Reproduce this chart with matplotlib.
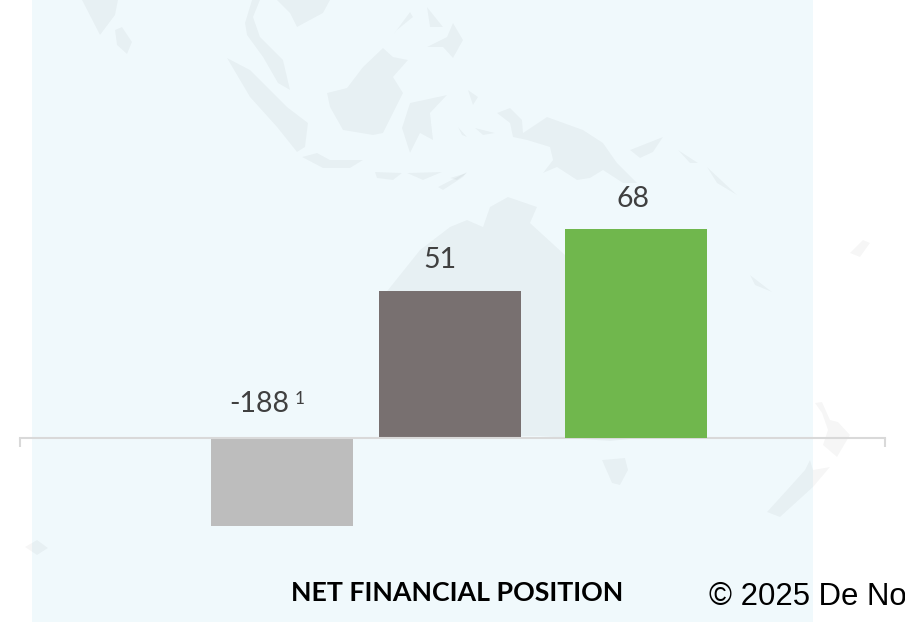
import matplotlib
matplotlib.use("Agg")
import matplotlib.pyplot as plt
from matplotlib.patches import Polygon, Rectangle

# ---------------------- data ----------------------
value_labels = ["-188", "51", "68"]
# drawn bar heights (the bars are not to scale with the labels)
bar_heights = [-88, 147, 209]
bar_colors = ["#bdbdbd", "#787070", "#70b74d"]
chart_title = "NET FINANCIAL POSITION"
footnote_mark = "1"
copyright_text = "© 2025 De No"

# ---------------------- layout (pixels) ----------------------
W, H = 905, 622
AX_LEFT, AX_RIGHT = 20, 885
BASELINE = 438
BAR_CENTERS = [262, 430, 616]  # relative to AX_LEFT
BAR_WIDTH = 142
LABEL_DX = [-23, -10, -3]
LABEL_DY = [26, 23, 22]

# background map, traced by hand in pixel coordinates
map_shapes = [
    [(82, 0), (118, 0), (115, 15), (100, 35)],
    [(115, 30), (122, 27), (132, 42), (127, 54), (117, 45)],
    [(252, 0), (260, 0), (253, 17), (260, 37), (283, 60), (287, 77), (290, 90), (278, 83), (263, 57), (247, 35), (245, 23)],
    [(277, 0), (330, 0), (323, 13), (297, 27), (290, 13)],
    [(227, 58), (250, 70), (287, 107), (308, 123), (305, 147), (297, 152), (277, 127), (250, 97)],
    [(302, 157), (317, 153), (330, 160), (363, 160), (350, 168), (323, 168)],
    [(327, 93), (347, 88), (363, 67), (383, 48), (393, 57), (408, 60), (393, 77), (403, 93), (383, 133), (373, 135), (343, 130), (330, 107)],
    [(410, 103), (447, 95), (430, 113), (433, 140), (420, 133), (410, 153), (402, 128)],
    [(427, 7), (443, 27), (430, 27)],
    [(453, 23), (463, 40), (453, 58), (443, 47), (427, 47), (447, 37)],
    [(410, 12), (393, 35), (397, 30), (413, 17)],
    [(375, 172), (402, 173), (393, 180), (377, 178)],
    [(407, 173), (442, 172), (423, 180)],
    [(438, 187), (467, 172), (463, 177), (443, 190)],
    [(497, 113), (510, 108), (522, 120), (523, 133), (547, 117), (583, 130), (603, 143), (617, 163), (637, 183), (623, 183),
     (603, 170), (590, 178), (577, 180), (557, 167), (543, 173), (553, 160), (550, 147), (527, 140), (513, 137), (510, 123)],
    [(630, 150), (663, 137), (653, 152), (640, 158)],
    [(678, 150), (698, 163), (690, 163)],
    [(707, 167), (737, 195), (717, 183)],
    [(468, 90), (478, 97), (473, 105)],
    [(475, 128), (495, 133), (483, 135)],
    [(458, 127), (467, 137), (462, 135)],
    [(450, 178), (467, 173), (457, 180)],
    # Australia
    [(450, 227), (467, 220), (483, 227), (490, 207), (508, 197), (537, 207), (530, 223), (565, 255), (700, 380), (640, 438),
     (610, 441), (540, 436), (400, 436), (380, 300), (420, 250)],
    [(602, 460), (625, 458), (628, 470), (620, 485), (612, 483)],
    [(810, 460), (813, 470), (830, 467), (813, 487), (780, 517), (767, 512), (787, 490), (805, 470)],
    [(815, 403), (822, 402), (830, 420), (838, 422), (850, 435), (837, 457), (823, 445), (828, 430), (822, 413)],
    [(750, 275), (772, 292), (755, 285)],
    [(850, 253), (860, 257), (870, 243), (863, 240), (853, 250)],
    [(25, 547), (37, 540), (48, 548), (37, 555)],
]

fig = plt.figure(figsize=(W / 100, H / 100), dpi=100, facecolor="white")

# ---------------------- background panel + map ----------------------
bg = fig.add_axes([0, 0, 1, 1])
bg.set_xlim(0, W)
bg.set_ylim(H, 0)
bg.axis("off")
bg.add_patch(Rectangle((32, 0), 781, H, facecolor="#f0f9fc", edgecolor="none"))
for shape in map_shapes:
    bg.add_patch(Polygon(shape, closed=True, facecolor="black", edgecolor="none", alpha=0.035))

# ---------------------- bars ----------------------
ax = fig.add_axes([AX_LEFT / W, 0, (AX_RIGHT - AX_LEFT) / W, 1])
ax.patch.set_alpha(0)
ax.set_xlim(0, AX_RIGHT - AX_LEFT)
ax.set_ylim(BASELINE - H, BASELINE)

for i in range(len(bar_heights)):
    # the green bar sits over the axis line, the others under it
    z = 3 if i == 2 else 1
    ax.bar(BAR_CENTERS[i], bar_heights[i], width=BAR_WIDTH, color=bar_colors[i], zorder=z)
    top = max(bar_heights[i], 0)
    ax.annotate(value_labels[i], xy=(BAR_CENTERS[i], top),
                xytext=(LABEL_DX[i] * 0.72, LABEL_DY[i] * 0.72), textcoords="offset points",
                ha="center", va="baseline", fontsize=20.5, family="Lato", color="#404040", zorder=4)

# superscript next to the -188 label
ax.annotate(footnote_mark, xy=(BAR_CENTERS[0], 0), xytext=(18 * 0.72, 34 * 0.72), textcoords="offset points",
            ha="center", va="baseline", fontsize=12.5, family="Lato", color="#404040", zorder=4)

# axis line with the two end ticks only
for side in ["top", "left", "right"]:
    ax.spines[side].set_visible(False)
ax.spines["bottom"].set_position(("data", 0))
ax.spines["bottom"].set_color("#d9d9d9")
ax.spines["bottom"].set_linewidth(1.5)
ax.spines["bottom"].set_zorder(2)
ax.set_yticks([])
ax.set_xticks([0, AX_RIGHT - AX_LEFT])
ax.set_xticklabels([])
ax.tick_params(axis="x", length=6.5, width=1.5, color="#d9d9d9", direction="out")

# ---------------------- title and copyright ----------------------
fig.text(457.5 / W, 1 - 601 / H, chart_title, ha="center", va="baseline",
         fontsize=19.3, fontweight="bold", family="Lato", color="black")
fig.text(709 / W, 1 - 605 / H, copyright_text, ha="left", va="baseline",
         fontsize=22.4, family="Liberation Sans", color="black")

plt.savefig("out.png", dpi=100)
